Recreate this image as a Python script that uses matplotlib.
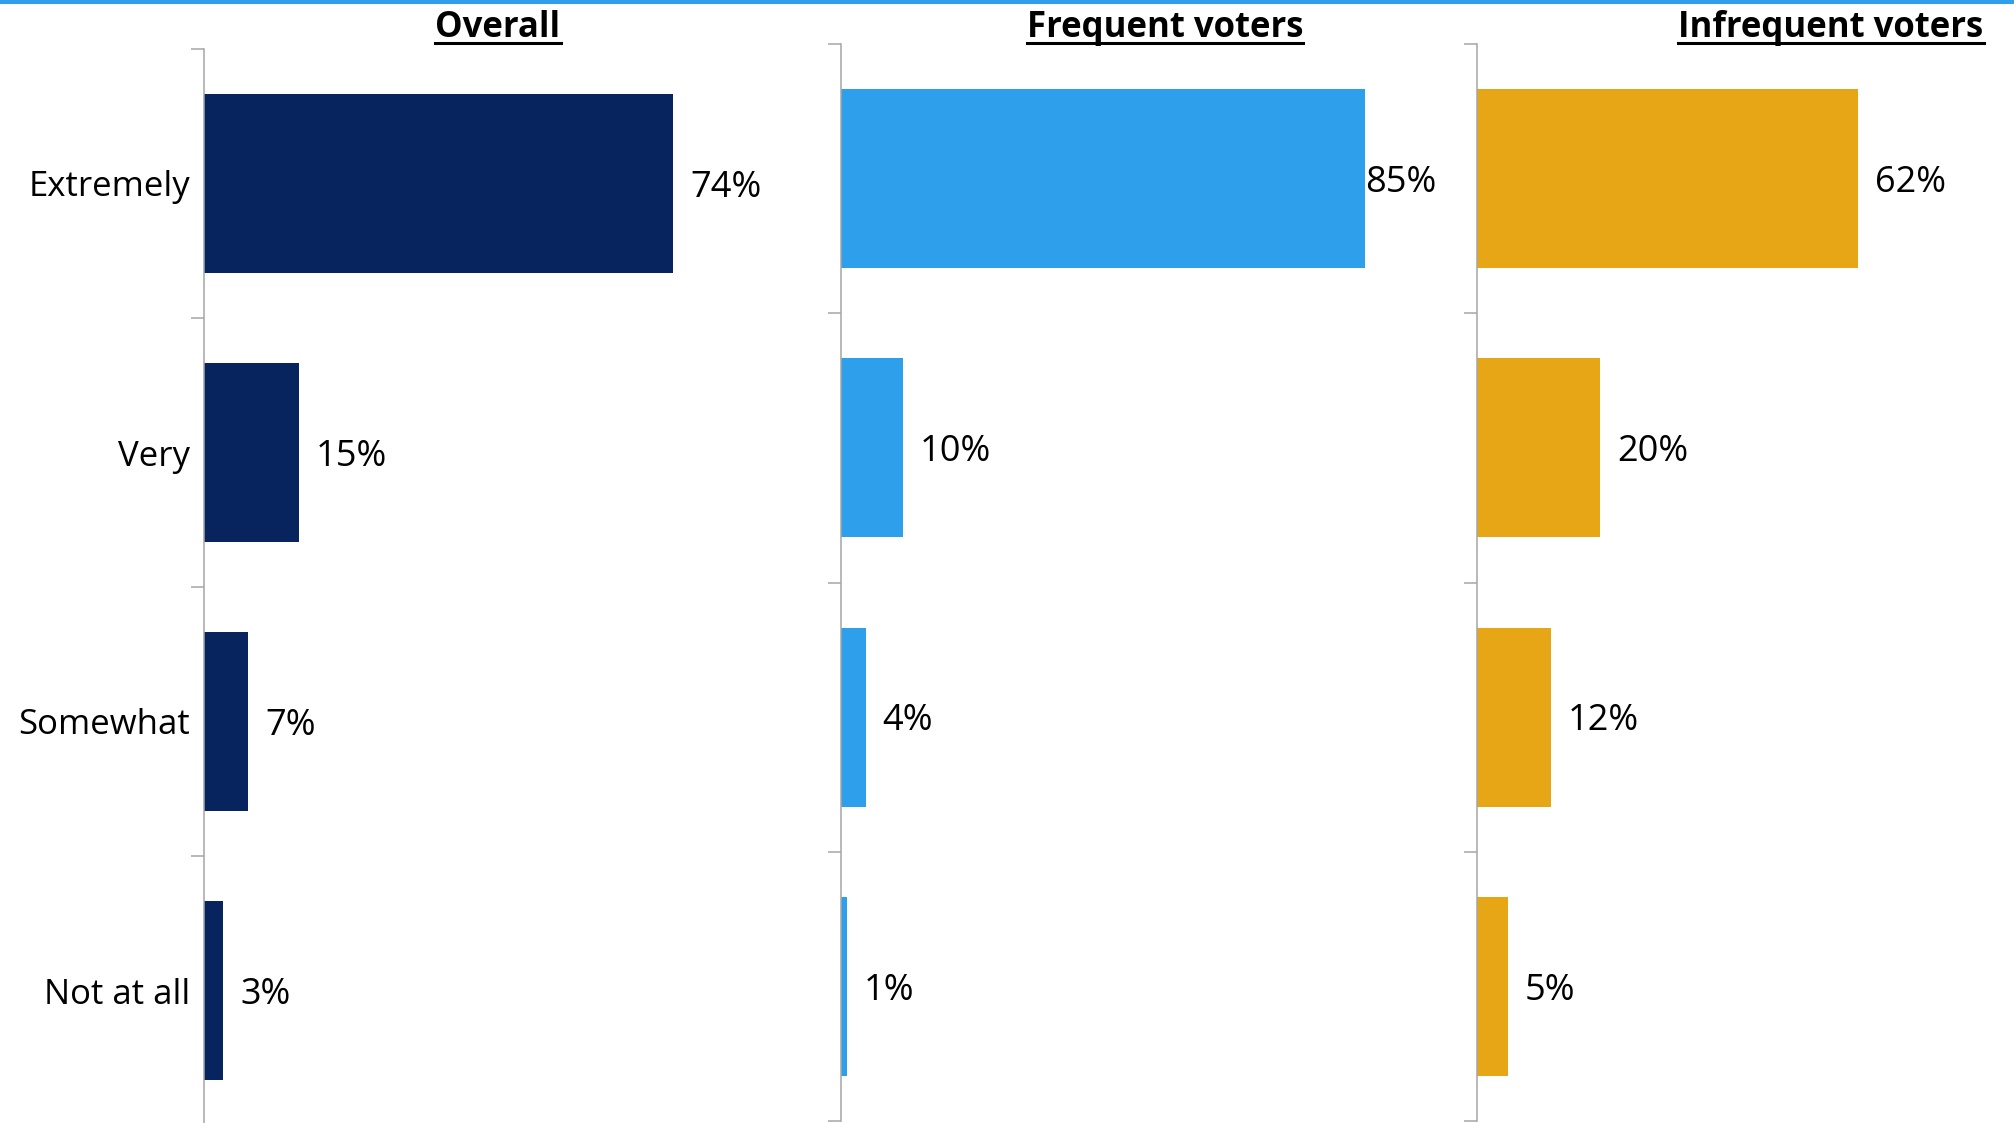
import matplotlib
matplotlib.use("Agg")
import matplotlib.pyplot as plt
from matplotlib.patches import Rectangle
from matplotlib.lines import Line2D

plt.rcParams['font.family'] = ['Open Sans', 'DejaVu Sans']

# Datos de la encuesta
categories = ['Extremely', 'Very', 'Somewhat', 'Not at all']
overall = [74, 15, 7, 3]
frequent = [85, 10, 4, 1]
infrequent = [62, 20, 12, 5]
titles = ['Overall', 'Frequent voters', 'Infrequent voters']

NAVY = '#08245E'
BLUE = '#2E9FEB'
GOLD = '#E6A615'
GRAY = '#A6A6A6'

W, H = 2014, 1123
fig = plt.figure(figsize=(W / 100, H / 100), dpi=100)

def px_axes(left, top, width, height):
    return fig.add_axes([left / W, 1 - (top + height) / H, width / W, height / H])

# (izquierda, arriba, alto, px por %, xmax, serie, color)
panels = [
    (204, 49, 1076, 6.34, 90, overall, NAVY),
    (841, 44, 1077, 6.165, 90, frequent, BLUE),
    (1477, 44, 1077, 6.15, 85, infrequent, GOLD),
]

pos = list(range(len(categories)))
for k, (left, top, height, scale, xmax, vals, color) in enumerate(panels):
    ax = px_axes(left, top, scale * xmax, height)
    ax.barh(pos, vals, height=0.665, color=color)
    ax.set_xlim(0, xmax)
    ax.set_ylim(len(categories) - 0.5, -0.5)
    for s in ['top', 'right', 'bottom']:
        ax.spines[s].set_visible(False)
    ax.spines['left'].set_color(GRAY)
    ax.spines['left'].set_linewidth(1.1)
    ax.set_xticks([])
    ax.set_yticks(pos)
    ax.set_yticks([p - 0.5 for p in pos] + [len(pos) - 0.5], minor=True)
    ax.tick_params(axis='y', which='major', length=0, pad=10, labelsize=25)
    ax.tick_params(axis='y', which='minor', length=9.4, width=1.1,
                   color=GRAY, direction='out')
    if k == 0:
        ax.set_yticklabels(categories)
    else:
        ax.set_yticklabels([])
    for i, v in enumerate(vals):
        # etiqueta pegada a la barra si no cabe dentro del panel
        off = 0 if v + 10 > xmax else 12.2
        ax.annotate(f'{v}%', (v, i), xytext=(off, -3), textcoords='offset points',
                    va='center', ha='left', fontsize=26)

# Títulos subrayados
title_x = [498, 1165, 1831]
renderer = fig.canvas.get_renderer()
for t, cx in zip(titles, title_x):
    txt = fig.text(cx / W, 1 - 37 / H, t, ha='center', va='baseline',
                   fontsize=25, fontweight='bold')
    bb = txt.get_window_extent(renderer)
    y = 1 - 43 / H
    fig.add_artist(Line2D([bb.x0 / W, bb.x1 / W], [y, y], color='black',
                          linewidth=2.2, transform=fig.transFigure))

# Franja azul superior
fig.add_artist(Rectangle((0, 1 - 4 / H), 1, 4 / H, transform=fig.transFigure,
                         color=BLUE, linewidth=0))

fig.savefig('out.png', dpi=100)
